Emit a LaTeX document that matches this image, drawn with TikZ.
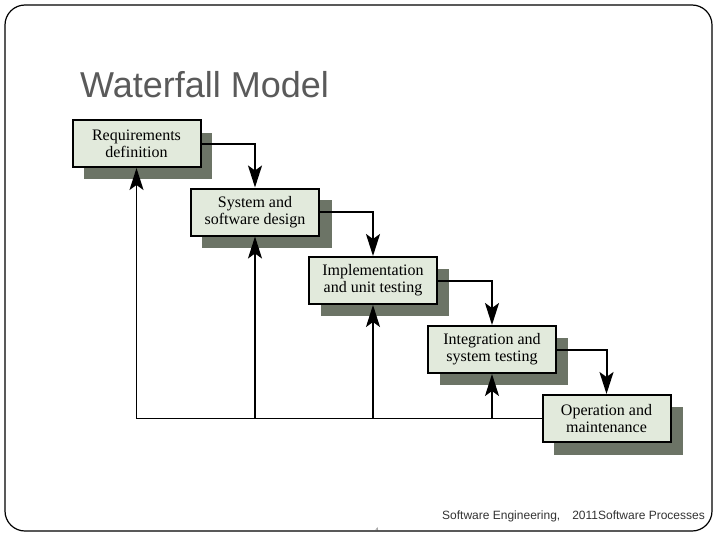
\documentclass[tikz,border=0pt]{standalone}
\usepackage{fontspec}
\setmainfont{Liberation Serif}
\newfontfamily\arialfont{Liberation Sans}
\usetikzlibrary{arrows.meta,calc}
\definecolor{boxfill}{HTML}{E2EADC}
\definecolor{shadowc}{HTML}{6C7466}
\definecolor{titlegray}{HTML}{5A5A5A}
\tikzset{
  stage/.style={draw=black, line width=2pt, fill=boxfill, minimum width=128pt, minimum height=47pt,
    align=center, font=\fontsize{16pt}{17pt}\selectfont, inner sep=0pt},
  shadowbox/.style={fill=shadowc, draw=none},
  flow/.style={line width=2pt, -{Stealth[length=22pt,width=14pt,inset=5pt]}},
  back/.style={line width=1.6pt, -{Stealth[length=22pt,width=14pt,inset=5pt]}},
  feed/.style={line width=1.6pt}
}
\begin{document}
\begin{tikzpicture}[x=1pt,y=-1pt]
\useasboundingbox (0,0) rectangle (717,538);
\fill[white] (0,0) rectangle (717,538);
\draw[line width=1.2pt, rounded corners=20pt] (5,5) rectangle (712,531);
\node[anchor=base west, text=titlegray, font=\arialfont\fontsize{36pt}{38pt}\selectfont, inner sep=0pt] (title) at (80,97) {Waterfall Model};
% shadows
\fill[shadowbox] (84,133) rectangle (212,179);
\fill[shadowbox] (202,200) rectangle (332,248);
\fill[shadowbox] (321,269) rectangle (449,316);
\fill[shadowbox] (440,338) rectangle (568,385);
\fill[shadowbox] (554,407) rectangle (683,455);
% boxes
\node[stage] (req) at (136.5,143.5) {Requirements\\definition};
\node[stage] (sys) at (255,212) {System and\\software design};
\node[stage] (imp) at (373,280.5) {Implementation\\and unit testing};
\node[stage] (int) at (492,349.5) {Integration and\\system testing};
\node[stage] (ope) at (606.5,418.5) {Operation and\\maintenance};
% forward flow
\draw[flow] (req.east) -| (sys.north);
\draw[flow] (sys.east) -| (imp.north);
\draw[flow] (imp.east) -| (int.north);
\draw[flow] (int.east) -| (ope.north);
% feedback
\coordinate (fl) at (req.south |- ope.west);
\draw[feed] (ope.west) -- (fl);
\draw[back] (fl) -- (req.south);
\draw[back] (sys.south |- ope.west) -- (sys.south);
\draw[back] (imp.south |- ope.west) -- (imp.south);
\draw[back] (int.south |- ope.west) -- (int.south);
% footer
\node[anchor=base east, font=\arialfont\fontsize{12pt}{13pt}\selectfont, text=black!80, inner sep=0pt] (foot) at (705,519) {Software Engineering,\hspace{1em}2011Software Processes};
\node[font=\arialfont\fontsize{5pt}{5pt}\selectfont, text=black!70, inner sep=0pt] (pg) at (377,530) {4};
\end{tikzpicture}
\end{document}
